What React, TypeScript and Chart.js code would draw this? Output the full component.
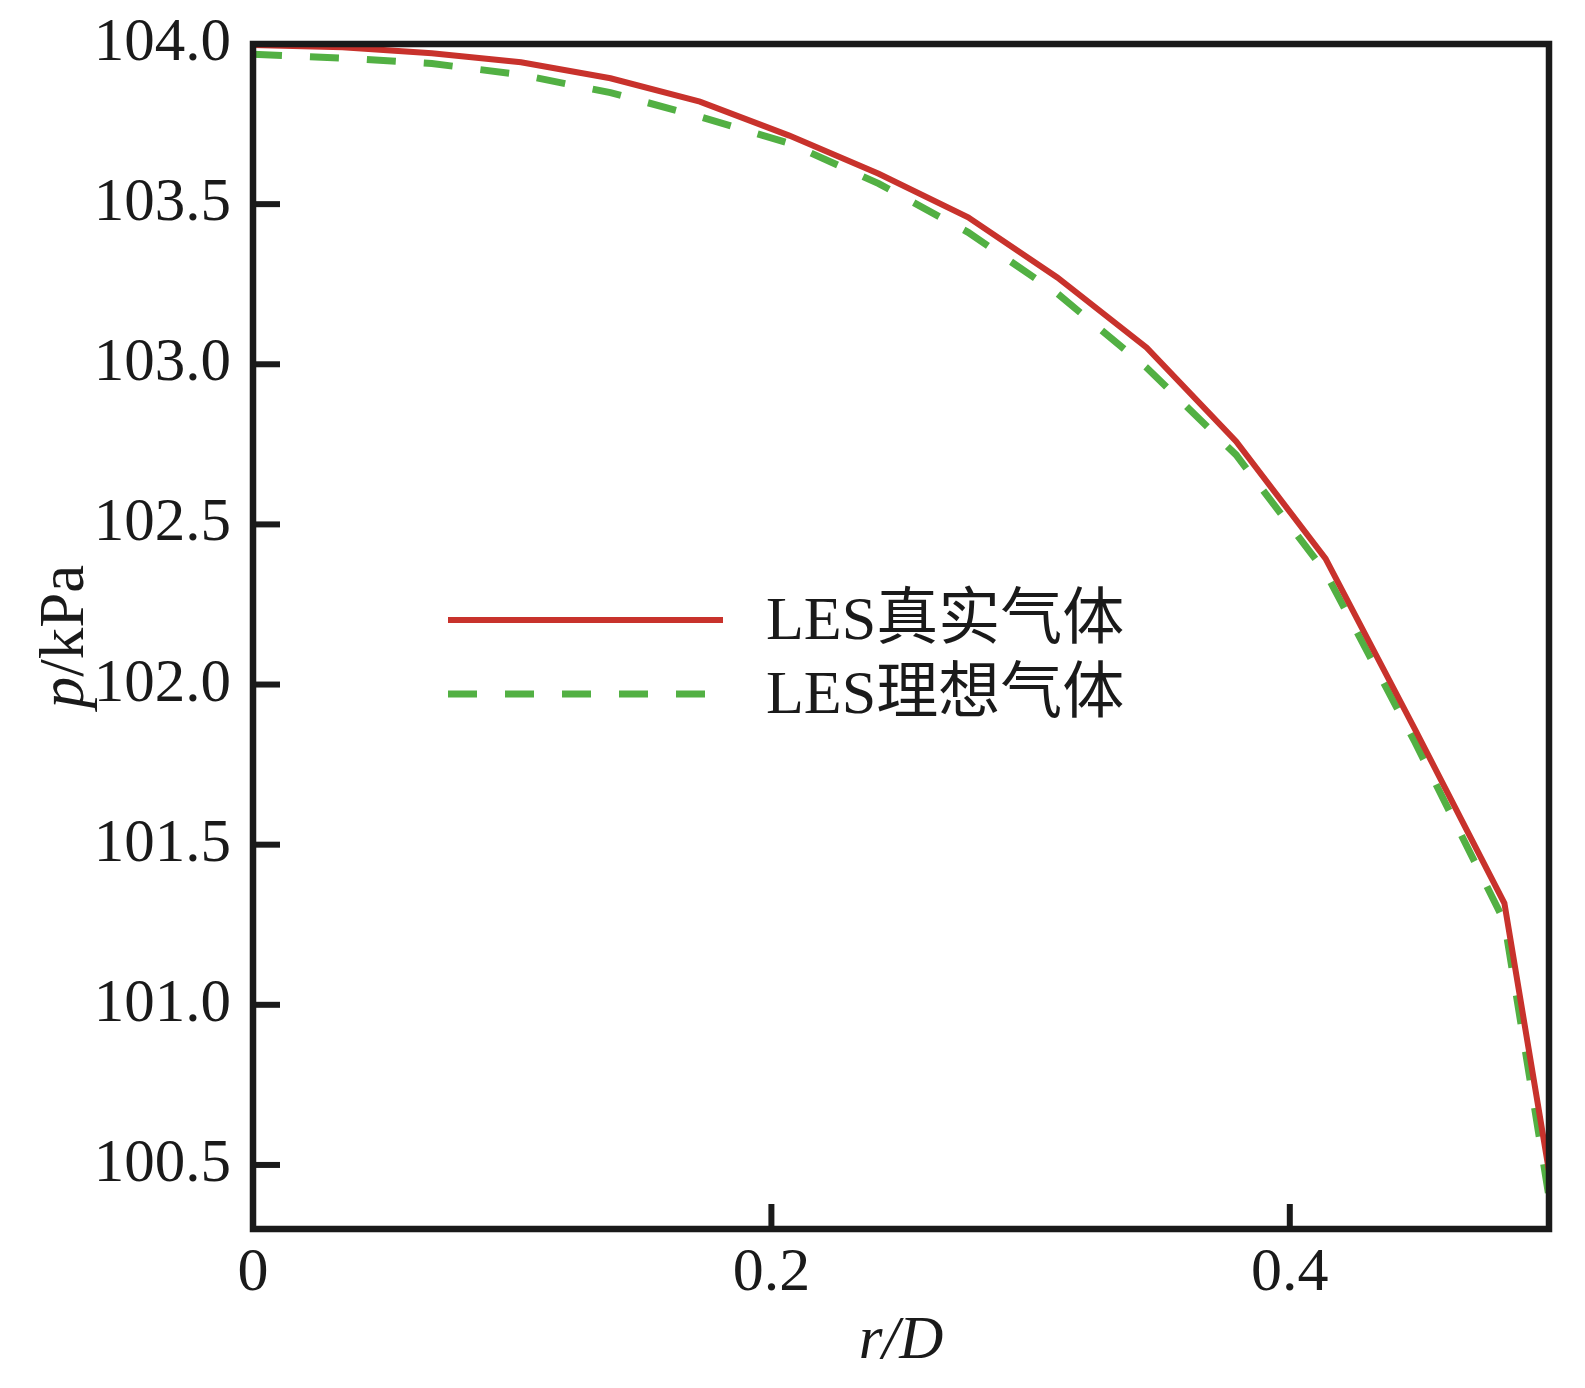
import { useEffect, useRef } from "react"
import { Chart, registerables } from "chart.js"

Chart.register(...registerables)

// r/D positions of the profile points
const radius = [0, 0.0345, 0.069, 0.1034, 0.1379, 0.1724, 0.2069, 0.2414, 0.2759, 0.3103, 0.3448, 0.3793, 0.4138, 0.4483, 0.4828, 0.5]
// p (kPa)
const realGas = [103.997, 103.99, 103.971, 103.943, 103.893, 103.82, 103.714, 103.595, 103.459, 103.271, 103.052, 102.759, 102.393, 101.86, 101.317, 100.48]
const idealGas = [103.968, 103.956, 103.939, 103.904, 103.848, 103.773, 103.69, 103.564, 103.412, 103.221, 102.989, 102.717, 102.35, 101.82, 101.26, 100.4]

const xTicks = [0, 0.2, 0.4]
const yTicks = [100.5, 101.0, 101.5, 102.0, 102.5, 103.0, 103.5, 104.0]
const seriesLabels = ["LES真实气体", "LES理想气体"]

const RED = "#c8322c"
const GREEN = "#52b043"
const INK = "#1a1a1a"
const SERIF = '"Liberation Serif", "Times New Roman", serif'
const LEGEND_FONT = '62px "Liberation Serif", "Noto Sans CJK SC", serif'

// frame, inward ticks, axis titles and the legend
const decorPlugin = {
  id: "decor",
  afterDraw(chart: any) {
    const { ctx, chartArea: a, scales } = chart
    ctx.save()
    ctx.strokeStyle = INK
    ctx.lineCap = "butt"

    ctx.lineWidth = 6
    for (const v of yTicks) {
      const y = scales.y.getPixelForValue(v)
      ctx.beginPath()
      ctx.moveTo(a.left, y)
      ctx.lineTo(a.left + 27, y)
      ctx.stroke()
    }
    for (const v of xTicks) {
      const x = scales.x.getPixelForValue(v)
      ctx.beginPath()
      ctx.moveTo(x, a.bottom)
      ctx.lineTo(x, a.bottom - 25)
      ctx.stroke()
    }

    ctx.lineWidth = 6.5
    ctx.strokeRect(a.left, a.top, a.right - a.left, a.bottom - a.top)

    // axis titles
    ctx.fillStyle = INK
    ctx.textBaseline = "middle"
    ctx.textAlign = "center"
    ctx.font = `italic 61px ${SERIF}`
    ctx.fillText("r/D", (a.left + a.right) / 2, 1342)

    ctx.save()
    ctx.translate(66, (a.top + a.bottom) / 2)
    ctx.rotate(-Math.PI / 2)
    ctx.textAlign = "left"
    ctx.font = `italic 63px ${SERIF}`
    const wp = ctx.measureText("p").width
    ctx.font = `63px ${SERIF}`
    const wr = ctx.measureText("/kPa").width
    const start = -(wp + wr) / 2
    ctx.font = `italic 63px ${SERIF}`
    ctx.fillText("p", start, 0)
    ctx.font = `63px ${SERIF}`
    ctx.fillText("/kPa", start + wp, 0)
    ctx.restore()

    // legend
    const rows = [
      { y: 620, color: RED, width: 6, dash: [] as number[], end: 723 },
      { y: 694, color: GREEN, width: 7, dash: [29, 28], end: 706 },
    ]
    rows.forEach((r, i) => {
      ctx.strokeStyle = r.color
      ctx.lineWidth = r.width
      ctx.setLineDash(r.dash)
      ctx.beginPath()
      ctx.moveTo(448, r.y)
      ctx.lineTo(r.end, r.y)
      ctx.stroke()
      ctx.setLineDash([])
      ctx.fillStyle = INK
      ctx.font = LEGEND_FONT
      ctx.textAlign = "left"
      ctx.textBaseline = "middle"
      ctx.fillText(seriesLabels[i], 766, r.y + 3)
    })
    ctx.restore()
  },
}

export default function App() {
  const canvasRef = useRef<HTMLCanvasElement>(null)
  const chartRef = useRef<Chart | null>(null)

  useEffect(() => {
    document.body.style.margin = "0"
    if (!canvasRef.current) return
    if (chartRef.current) chartRef.current.destroy()

    chartRef.current = new Chart(canvasRef.current, {
      type: "line",
      data: {
        datasets: [
          {
            label: seriesLabels[0],
            data: radius.map((r, i) => ({ x: r, y: realGas[i] })),
            borderColor: RED,
            borderWidth: 6,
            pointRadius: 0,
            tension: 0,
          },
          {
            label: seriesLabels[1],
            data: radius.map((r, i) => ({ x: r, y: idealGas[i] })),
            borderColor: GREEN,
            borderWidth: 7,
            borderDash: [29, 28],
            borderCapStyle: "butt",
            pointRadius: 0,
            tension: 0,
          },
        ],
      },
      options: {
        animation: false,
        responsive: true,
        maintainAspectRatio: false,
        devicePixelRatio: 1,
        layout: { padding: { left: 0, top: 44, right: 36, bottom: 0 } },
        plugins: {
          legend: { display: false },
          tooltip: { enabled: false },
        },
        scales: {
          x: {
            type: "linear",
            min: 0,
            max: 0.5,
            afterBuildTicks: (s: any) => {
              s.ticks = xTicks.map((v) => ({ value: v }))
            },
            afterFit: (s: any) => {
              s.height = 159
            },
            grid: { display: false, drawTicks: false },
            border: { display: false },
            ticks: {
              padding: 8,
              color: INK,
              font: { family: SERIF, size: 62 },
              callback: (v: any) => (v === 0 ? "0" : Number(v).toFixed(1)),
            },
          },
          y: {
            type: "linear",
            min: 100.3,
            max: 104.0,
            afterBuildTicks: (s: any) => {
              s.ticks = yTicks.map((v) => ({ value: v }))
            },
            afterFit: (s: any) => {
              s.width = 253
              s.paddingTop = 0
              s.paddingBottom = 0
            },
            grid: { display: false, drawTicks: false },
            border: { display: false },
            ticks: {
              padding: 22,
              color: INK,
              font: { family: SERIF, size: 61 },
              callback: (v: any) => Number(v).toFixed(1),
            },
          },
        },
      },
      plugins: [decorPlugin],
    })

    return () => {
      if (chartRef.current) {
        chartRef.current.destroy()
        chartRef.current = null
      }
    }
  }, [])

  return (
    <div style={{ width: 1585, height: 1388, background: "#fff", position: "relative" }}>
      <canvas ref={canvasRef} />
    </div>
  )
}
